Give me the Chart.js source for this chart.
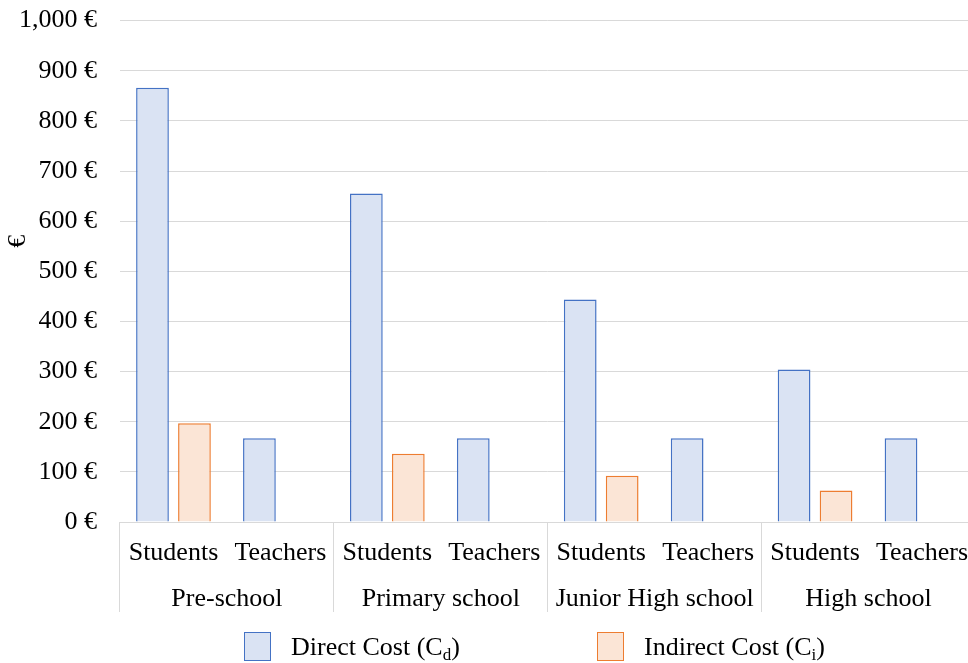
<!DOCTYPE html>
<html>
<head>
<meta charset="utf-8">
<title>Direct and indirect cost per school level</title>
<script src="https://cdn.jsdelivr.net/npm/chart.js@4.4.0/dist/chart.umd.min.js"></script>
<style>
  html, body { margin: 0; padding: 0; background: #fff; }
  #wrap { position: relative; width: 968px; height: 663px; overflow: hidden; font-family: "Liberation Serif", "Times New Roman", serif; }
  #costChart { position: absolute; left: 0; top: -18px; }
  #legend { position: absolute; left: 0; top: 632px; width: 968px; height: 30px; }
  .item { position: absolute; top: 0; height: 30px; color: #000; font-size: 26px; line-height: 30px; white-space: nowrap; }
  .box { position: absolute; top: 0; left: 0; width: 27px; height: 29px; box-sizing: border-box; border: 1px solid; }
  .txt { position: absolute; left: 47px; top: 0; }
  .txt sub { font-size: 17px; vertical-align: -5px; line-height: 0; }
</style>
</head>
<body>
<div id="wrap">
  <canvas id="costChart" width="976" height="681"></canvas>
  <div id="legend"></div>
</div>
<script>
// Data
const categories = ["Students", "Teachers", "Students", "Teachers", "Students", "Teachers", "Students", "Teachers"];
const groups = ["Pre-school", "Primary school", "Junior High school", "High school"];
const directCost = [866, 167, 655, 167, 444, 167, 304, 167];
const indirectCost = [197, null, 136, null, 92, null, 63, null];
const yMin = 0, yMax = 1000, yStep = 100;

const FONT = "'Liberation Serif', 'Times New Roman', serif";
const BLUE_FILL = "#dae3f3", BLUE_LINE = "#4472c4";
const ORANGE_FILL = "#fbe5d6", ORANGE_LINE = "#ed7d31";

// Group labels, separators under the axis, and the rotated y title
const groupAxis = {
  id: "groupAxis",
  afterDraw(chart) {
    const { ctx, chartArea, scales } = chart;
    const x = scales.x;
    const y0 = chartArea.bottom;
    ctx.save();
    ctx.strokeStyle = "#d9d9d9";
    ctx.lineWidth = 1;
    groups.forEach((g, i) => {
      const a = 2 * i, b = 2 * i + 1;
      const left = i === 0 ? x.left : (x.getPixelForTick(a - 1) + x.getPixelForTick(a)) / 2;
      const xl = Math.round(left) - 0.5;
      ctx.beginPath();
      ctx.moveTo(xl, y0);
      ctx.lineTo(xl, y0 + 90);
      ctx.stroke();
      const mid = (x.getPixelForTick(a) + x.getPixelForTick(b)) / 2;
      ctx.fillStyle = "#000";
      ctx.font = "26px " + FONT;
      ctx.textAlign = "center";
      ctx.textBaseline = "middle";
      ctx.fillText(g, mid, y0 + 77);
    });
    // y axis title, a little above the middle of the plot
    const midY = (chartArea.top + chartArea.bottom) / 2 - 30;
    ctx.translate(18, midY);
    ctx.rotate(-Math.PI / 2);
    ctx.font = "26px " + FONT;
    ctx.textAlign = "center";
    ctx.textBaseline = "middle";
    ctx.fillText("€", 0, 0);
    ctx.restore();
  }
};

const chart = new Chart(document.getElementById("costChart"), {
  type: "bar",
  data: {
    labels: categories,
    datasets: [
      {
        label: "Direct Cost (Cd)",
        data: directCost,
        backgroundColor: BLUE_FILL,
        borderColor: BLUE_LINE,
        borderWidth: 1.5,
        categoryPercentage: 0.785,
        barPercentage: 0.78
      },
      {
        label: "Indirect Cost (Ci)",
        data: indirectCost,
        backgroundColor: ORANGE_FILL,
        borderColor: ORANGE_LINE,
        borderWidth: 1.5,
        categoryPercentage: 0.785,
        barPercentage: 0.78
      }
    ]
  },
  options: {
    responsive: false,
    animation: false,
    devicePixelRatio: 1,
    layout: { padding: { top: 0, right: 0, bottom: 51, left: 0 } },
    plugins: { legend: { display: false }, tooltip: { enabled: false } },
    scales: {
      x: {
        grid: { display: false },
        border: { display: false },
        ticks: { color: "#000", font: { family: FONT, size: 26 }, padding: 8, maxRotation: 0, autoSkip: false },
        afterFit: s => { s.height = 90; }
      },
      y: {
        min: yMin,
        max: yMax,
        grid: { color: "#d9d9d9", lineWidth: 1, drawTicks: false },
        border: { display: false },
        ticks: {
          stepSize: yStep,
          color: "#000",
          font: { family: FONT, size: 26 },
          padding: 23,
          callback: v => v.toLocaleString("en-US") + " €"
        },
        afterFit: s => { s.width = 120; }
      }
    }
  },
  plugins: [groupAxis]
});

// HTML legend (subscripts in the labels)
const legendItems = [
  { left: 244, fill: BLUE_FILL, line: BLUE_LINE, name: "Direct Cost (C", sub: "d" },
  { left: 597, fill: ORANGE_FILL, line: ORANGE_LINE, name: "Indirect Cost (C", sub: "i" }
];
const legend = document.getElementById("legend");
legendItems.forEach(it => {
  const el = document.createElement("div");
  el.className = "item";
  el.style.left = it.left + "px";
  el.innerHTML = `<div class="box" style="background:${it.fill};border-color:${it.line}"></div>` +
    `<span class="txt">${it.name}<sub>${it.sub}</sub>)</span>`;
  legend.appendChild(el);
});
</script>
</body>
</html>
